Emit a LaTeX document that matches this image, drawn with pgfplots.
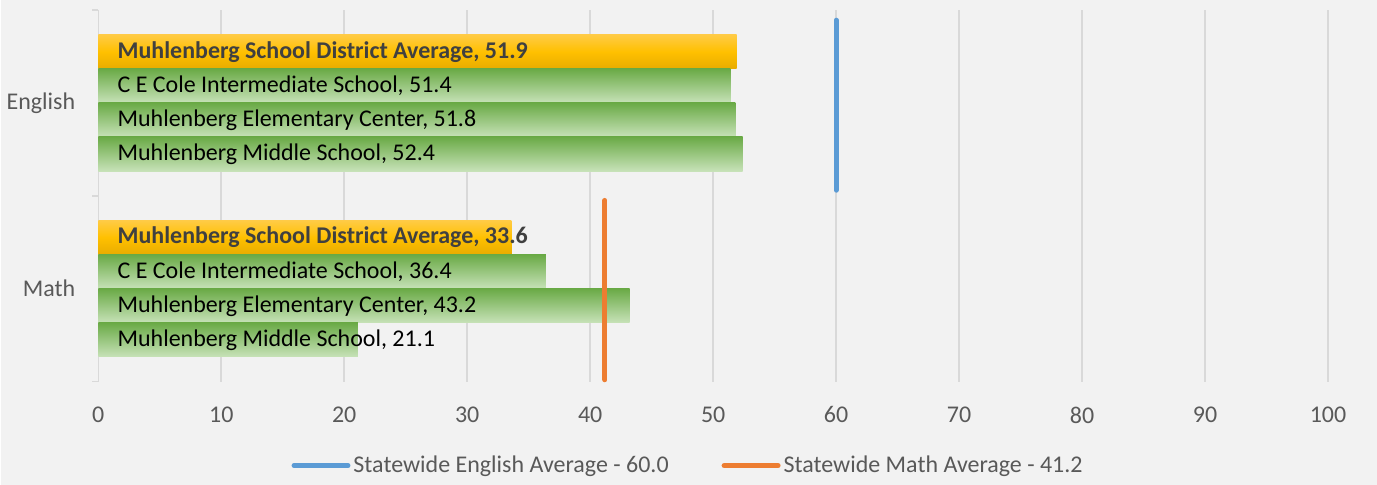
\documentclass[border=0pt]{standalone}
\usepackage{fontspec}
\setmainfont{Carlito}
\usepackage{pgfplots}
\pgfplotsset{compat=1.18}
\definecolor{bg}{HTML}{F2F2F2}
\definecolor{gridgray}{HTML}{D9D9D9}
\definecolor{labelgray}{HTML}{595959}
\definecolor{darktext}{HTML}{404040}
\definecolor{goldtop}{HTML}{FFCB45}
\definecolor{goldmid}{HTML}{FFC000}
\definecolor{goldbot}{HTML}{E8AC00}
\definecolor{greentop}{HTML}{6AAA46}
\definecolor{greenbot}{HTML}{C7E2B8}
\definecolor{statblue}{HTML}{5B9BD5}
\definecolor{statorange}{HTML}{ED7D31}
\pgfplotsset{
  goldbar/.style={xbar, bar width=0.1833, bar shift=0, draw=none,
    top color=goldtop, bottom color=goldbot, middle color=goldmid, forget plot},
  greenbar/.style={xbar, bar width=0.1833, bar shift=0, draw=none,
    top color=greentop, bottom color=greenbot, forget plot},
}
\tikzset{
  lbl/.style={anchor=west, inner sep=0pt, font=\fontsize{12}{14}\selectfont},
  lblbold/.style={anchor=west, inner sep=0pt, font=\fontsize{12}{14}\selectfont\bfseries, text=darktext},
}
\begin{document}%
\begin{tikzpicture}
\fill[bg] (0,0) rectangle (688.5pt,242.5pt);
\begin{axis}[
  at={(48.5pt,51.5pt)}, anchor=south west,
  scale only axis, width=615.5pt, height=186pt,
  xmin=0, xmax=100, ymin=0, ymax=2,
  clip=false,
  axis lines*=left,
  axis line style={-},
  x axis line style={draw=none},
  y axis line style={draw=gridgray, line width=0.75pt},
  xtick={0,10,...,100},
  xtick style={draw=none},
  ytick={0,1,2}, yticklabels={},
  ytick style={draw=gridgray, line width=0.75pt},
  tick align=outside, major tick length=3pt,
  extra y ticks={0.5,1.5},
  extra y tick labels={Math,English},
  extra y tick style={major tick length=0pt},
  xmajorgrids,
  grid style={draw=gridgray, line width=0.75pt},
  ticklabel style={text=labelgray, font=\fontsize{12}{14}\selectfont},
  /pgf/number format/assume math mode=true,
  xticklabel style={yshift=-6pt},
  yticklabel style={xshift=-8pt},
  legend style={at={(0.480,-0.226)}, anchor=center, legend columns=2,
    draw=none, fill=none, text=labelgray, font=\fontsize{12}{14}\selectfont,
    nodes={inner xsep=1.5pt},
    /tikz/every even column/.append style={column sep=25pt}},
  legend image code/.code={\draw[#1, line cap=round] (0pt,0pt) -- (27pt,0pt);},
]
% English
\addplot[goldbar]  coordinates {(51.9,1.775)};  % district average
\addplot[greenbar] coordinates {(51.4,1.5917)}; % C E Cole Intermediate
\addplot[greenbar] coordinates {(51.8,1.4083)}; % Elementary Center
\addplot[greenbar] coordinates {(52.4,1.225)};  % Middle School
% Math
\addplot[goldbar]  coordinates {(33.6,0.775)};
\addplot[greenbar] coordinates {(36.4,0.5917)};
\addplot[greenbar] coordinates {(43.2,0.4083)};
\addplot[greenbar] coordinates {(21.1,0.225)};
% statewide averages
\addplot[statblue, line width=2.5pt, line cap=round] coordinates {(60,1.03) (60,1.945)};
\addlegendentry{Statewide English Average - 60.0}
\addplot[statorange, line width=2.5pt, line cap=round] coordinates {(41.2,0.01) (41.2,0.975)};
\addlegendentry{Statewide Math Average - 41.2}
% bar labels
\node[lblbold] at (axis cs:1.54,1.775) {Muhlenberg School District Average, 51.9};
\node[lbl] at (axis cs:1.54,1.5917) {C E Cole Intermediate School, 51.4};
\node[lbl] at (axis cs:1.54,1.4083) {Muhlenberg Elementary Center, 51.8};
\node[lbl] at (axis cs:1.54,1.225) {Muhlenberg Middle School, 52.4};
\node[lblbold] at (axis cs:1.54,0.775) {Muhlenberg School District Average, 33.6};
\node[lbl] at (axis cs:1.54,0.5917) {C E Cole Intermediate School, 36.4};
\node[lbl] at (axis cs:1.54,0.4083) {Muhlenberg Elementary Center, 43.2};
\node[lbl] at (axis cs:1.54,0.225) {Muhlenberg Middle School, 21.1};
\end{axis}
\end{tikzpicture}%
\end{document}
